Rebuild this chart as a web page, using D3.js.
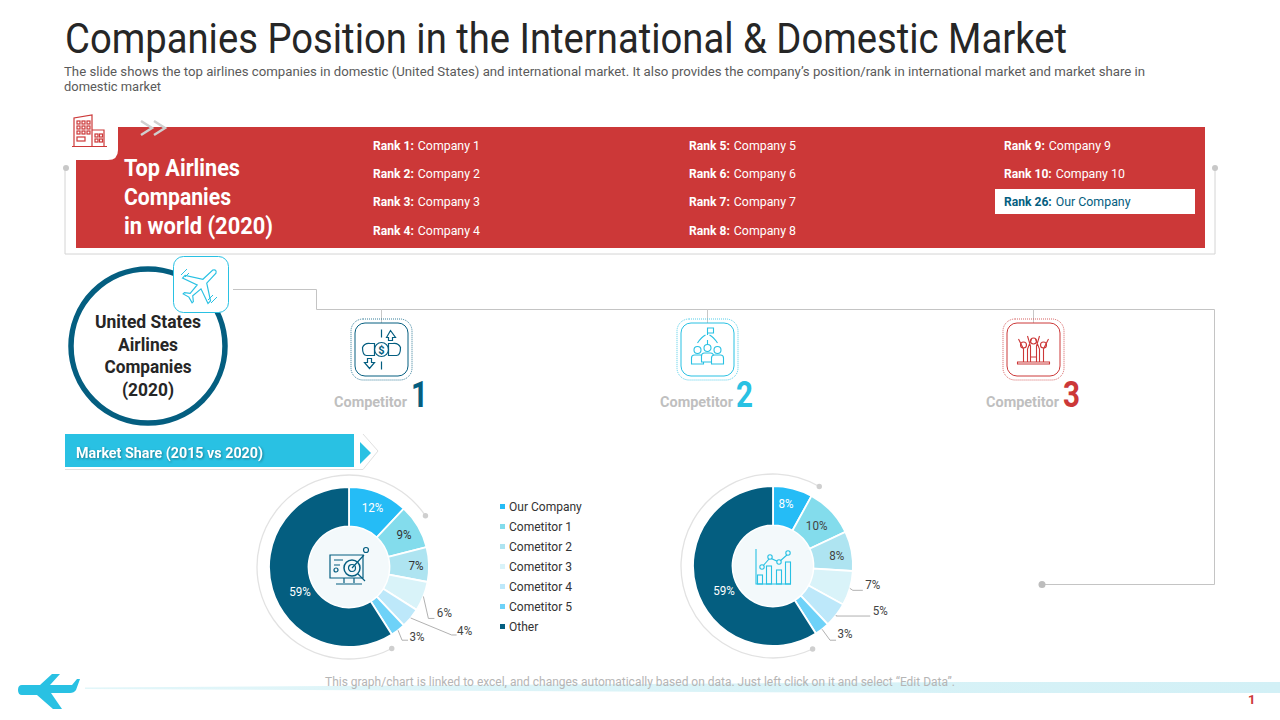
<!DOCTYPE html>
<html><head><meta charset="utf-8">
<script src="https://cdn.jsdelivr.net/npm/d3@7/dist/d3.min.js"></script>
<style>html,body{margin:0;padding:0;background:#fff;overflow:hidden}svg{display:block;font-family:Roboto,sans-serif}</style>
</head><body><svg id="c" width="1280" height="720" viewBox="0 0 1280 720"></svg>
<script>
const categories = ["Our Company","Cometitor 1","Cometitor 2","Cometitor 3","Cometitor 4","Cometitor 5","Other"];
const share2015 = [12,9,7,6,4,3,59];
const share2020 = [8,10,8,7,5,3,59];
const sliceColors = ["#25bcf6","#83dcec","#aee4f1","#d9f3f9","#bde8fa","#6ed2f8","#045e80"];
const ranksCol1 = [["Rank 1:","Company 1"],["Rank 2:","Company 2"],["Rank 3:","Company 3"],["Rank 4:","Company 4"]];
const ranksCol2 = [["Rank 5:","Company 5"],["Rank 6:","Company 6"],["Rank 7:","Company 7"],["Rank 8:","Company 8"]];
const ranksCol3 = [["Rank 9:","Company 9"],["Rank 10:","Company 10"],["Rank 26:","Our Company"]];

const svg = d3.select("#c");
const RED="#cc3838", NAVY="#045e80", CYAN="#29c1e3", LINE="#c4c4c4";

function txt(p,x,y,s,o={}){
  const t=p.append("text").attr("x",x).attr("y",y).text(s)
    .attr("font-size",o.size||12).attr("font-weight",o.weight||400)
    .attr("fill",o.fill||"#333").attr("text-anchor",o.anchor||"start");
  if(o.width) t.attr("textLength",o.width).attr("lengthAdjust","spacingAndGlyphs");
  return t;
}
function squeeze(t,f){
  const w=t.node().getComputedTextLength()*f;
  t.attr("textLength",w).attr("lengthAdjust","spacingAndGlyphs");
  return w;
}
function poly(p,pts,stroke,w,fill){
  return p.append("path").attr("d",d3.line()(pts)).attr("fill",fill||"none").attr("stroke",stroke).attr("stroke-width",w||1);
}
function dot(p,x,y,r,f){p.append("circle").attr("cx",x).attr("cy",y).attr("r",r).attr("fill",f||"#c8c8c8");}

/* Title */
txt(svg,65,53,"Companies Position in the International & Domestic Market",{size:42,fill:"#262626",width:1002});
txt(svg,64,76,"The slide shows the top airlines companies in domestic (United States) and international market. It also provides  the company’s position/rank in international market and market share in",{size:12,fill:"#5a5a5a",width:1081});
txt(svg,64,91,"domestic market",{size:12,fill:"#5a5a5a",width:97});

/* Red header panel */
poly(svg,[[65,168],[65,254],[1215,254],[1215,168]],"#d4d4d4",1);
dot(svg,66,168,3);dot(svg,1215,168,3);
svg.append("rect").attr("x",76).attr("y",127).attr("width",1129).attr("height",121).attr("fill",RED);
svg.append("path").attr("fill","#fff").attr("d","M70 110H118V150Q118 160 108 160H76V168H70Z");
const chev=svg.append("g").attr("fill","none").attr("stroke","#cfcfcf").attr("stroke-width",2.5);
chev.append("path").attr("d","M141 121L152 128L141 135");
chev.append("path").attr("d","M154 121L165 128L154 135");
/* building icon */
const b=svg.append("g").attr("fill","none").attr("stroke",RED).attr("stroke-width",1.2);
b.append("path").attr("d","M74 146V118L92 115V146M92 130H104V146M72 146.500H107");
[0,1,2].forEach(i=>[0,1,2].forEach(j=>b.append("rect").attr("x",77+j*5).attr("y",121+i*5).attr("width",3).attr("height",3)));
[0,1].forEach(i=>[0,1].forEach(j=>b.append("rect").attr("x",95+j*4.5).attr("y",134+i*5).attr("width",3).attr("height",3)));
b.append("rect").attr("x",77).attr("y",137).attr("width",8).attr("height",4);

["Top Airlines","Companies","in world (2020)"].forEach((s,i)=>
  txt(svg,124,176+i*29,s,{size:24,weight:700,fill:"#fff",width:[116,107,149][i]}));

svg.append("rect").attr("x",995).attr("y",189).attr("width",200).attr("height",25).attr("fill","#fff");
const rowY=d3.scalePoint().domain([0,1,2,3]).range([145,230]);
[[373,ranksCol1],[689,ranksCol2],[1004,ranksCol3]].forEach(([x,col])=>{
  col.forEach((r,i)=>{
    const hi=r[0]==="Rank 26:";
    const fill=hi?NAVY:"#fff";
    const a=txt(svg,x,rowY(i)+4.500,r[0],{size:13,weight:700,fill});
    const w=squeeze(a,0.93);
    const v=txt(svg,x+w+4,rowY(i)+4.500,r[1],{size:13,fill:hi?NAVY:"#fff"});
    squeeze(v,0.95);
  });
});

/* Circle */
svg.append("circle").attr("cx",148).attr("cy",346).attr("r",77).attr("fill","#fff").attr("stroke",NAVY).attr("stroke-width",5.500);
["United States","Airlines","Companies","(2020)"].forEach((s,i)=>
  txt(svg,148,328+i*22.700,s,{size:18,weight:700,fill:"#262626",anchor:"middle",width:[106,60,87,52][i]}));
svg.append("rect").attr("x",173.500).attr("y",256.500).attr("width",55).attr("height",56).attr("rx",10).attr("fill","#fff").attr("stroke",CYAN).attr("stroke-width",1);
/* plane icon */
const pl=svg.append("g").attr("transform","translate(201,285) rotate(45) scale(.9)").attr("fill","#fff").attr("stroke",CYAN).attr("stroke-width",1.300);
pl.append("path").attr("d","M-2.500 -21Q0 -25 2.500 -21L3 -6L20 5V9L3 3L2 15L7 19V21L0 19L-7 21V19L-2 15L-3 3L-20 9V5L-3 -6Z");
const sp=svg.append("g").attr("fill","none").attr("stroke",CYAN).attr("stroke-width",1);
sp.append("path").attr("d","M181 275L187 269M185 277L189 273M208 300L213 295M211 303L217 297");

/* Connectors */
poly(svg,[[233,289.500],[316.500,289.500],[316.500,309.500],[1214.500,309.500],[1214.500,584.500],[1042,584.500]],LINE,1);
dot(svg,1042,584.500,3.500,"#bdbdbd");

/* Competitors */
const comps=[{x:382,c:NAVY,n:"1",tx:334,nx:411},{x:708,c:CYAN,n:"2",tx:660,nx:736},{x:1034,c:RED,n:"3",tx:986,nx:1063}];
comps.forEach(k=>{
  poly(svg,[[k.x-.5,309],[k.x-.5,323]],"#c8c8c8",1);
  svg.append("rect").attr("x",k.x-31).attr("y",319).attr("width",61).attr("height",61).attr("rx",12).attr("fill","none").attr("stroke",k.c).attr("stroke-width",.8).attr("stroke-dasharray","1 1");
  svg.append("rect").attr("x",k.x-27).attr("y",323).attr("width",53).attr("height",53).attr("rx",10).attr("fill","#fff").attr("stroke",k.c).attr("stroke-width",1);
  txt(svg,k.tx,407,"Competitor",{size:15,weight:700,fill:"#bfbfbf",width:73});
  txt(svg,k.nx,407,k.n,{size:37,weight:700,fill:k.c,width:17});
});
/* competitor icons */
const i1=svg.append("g").attr("transform","translate(381.500,349.500)").attr("fill","none").attr("stroke",NAVY).attr("stroke-width",1.200);
i1.append("circle").attr("r",7);
i1.append("path").attr("d","M0 -20V-12M0 12V20M-19 -2Q-17 -7 -11 -6H-7V6H-15Q-19 6 -19 -2ZM19 -2Q17 -7 11 -6H7V6H15Q19 6 19 -2ZM5 -12L9 -19L14 -12H11V-9H7V-12ZM-14 9H-10V13H-7L-12 19L-17 13H-14Z");
txt(i1,0,4,"$",{size:11,weight:700,fill:NAVY,anchor:"middle"}).attr("stroke","none");
const i2=svg.append("g").attr("transform","translate(707.500,350)").attr("fill","none").attr("stroke",CYAN).attr("stroke-width",1.100);
i2.append("path").attr("d","M0 -15V-22H6V-17H0M-10 -7Q-6 -13 -2 -15M10 -7Q6 -13 2 -15M0 -10V-5");
[[-10,0],[0,-2],[10,0]].forEach(([x,y])=>{i2.append("circle").attr("cx",x).attr("cy",y).attr("r",3.500);
  i2.append("path").attr("d",`M${x-6} ${y+14}V${y+8}Q${x-6} ${y+5} ${x-3} ${y+5}H${x+3}Q${x+6} ${y+5} ${x+6} ${y+8}V${y+14}Z`).attr("fill","#fff");});
const i3=svg.append("g").attr("transform","translate(1033.500,349)").attr("fill","none").attr("stroke",RED).attr("stroke-width",1.100);
i3.append("path").attr("d","M-16 15H16V13H-16ZM-10 13V0L-15 -10M-6 13V0L-2 -10M10 13V0L15 -10M6 13V0L2 -10M-3 13V-3L-6 -13M3 13V-3L6 -13M-3 8H3");
[[-10,-4],[0,-8],[10,-4]].forEach(([x,y])=>i3.append("circle").attr("cx",x).attr("cy",y).attr("r",3));

/* Banner */
poly(svg,[[65,469.500],[363,469.500],[378,451],[363,434]],"#e0e0e0",1);
svg.append("rect").attr("x",65).attr("y",434).attr("width",289).attr("height",33).attr("fill",CYAN);
svg.append("path").attr("d","M360 442L371 453L360 464Z").attr("fill",CYAN);
txt(svg,76,458,"Market Share (2015 vs 2020)",{size:14.500,weight:700,fill:"#fff",width:187}).style("filter","drop-shadow(1px 1px 1px rgba(0,0,0,.35))");

/* Donuts */
const pie=d3.pie().sort(null).value(d=>d).startAngle(0).endAngle(2*Math.PI);
const deg=Math.PI/180;
function donut(cfg){
  const g=svg.append("g").attr("transform",`translate(${cfg.cx},${cfg.cy})`);
  const ring=d3.arc().innerRadius(92).outerRadius(92).startAngle(cfg.ringFrom*deg).endAngle(cfg.ringTo*deg);
  g.append("path").attr("d",ring()).attr("fill","none").attr("stroke","#e2e2e2").attr("stroke-width",1.300);
  [cfg.ringFrom,cfg.ringTo].forEach(a=>dot(g,92*Math.sin(a*deg),-92*Math.cos(a*deg),2.700,"#cfcfcf"));
  const arc=d3.arc().innerRadius(40.500).outerRadius(80);
  const arcs=pie(cfg.values);
  g.selectAll("path.s").data(arcs).join("path").attr("class","s").attr("d",arc)
    .attr("fill",(d,i)=>sliceColors[i]).attr("stroke","#fff").attr("stroke-width",1.800);
  g.append("circle").attr("r",40).attr("fill","#f3f9fb");
  arcs.forEach((d,i)=>{
    const mid=(d.startAngle+d.endAngle)/2;
    const lab=cfg.labels[i];
    const label=d.value+"%";
    if(lab.r){
      const off=lab.o||[0,0];
      squeeze(txt(g,lab.r*Math.sin(mid)+off[0],-lab.r*Math.cos(mid)+4.500+off[1],label,{size:12.500,fill:lab.fill,anchor:"middle"}),0.93);
    }else{
      const sx=80*Math.sin(mid), sy=-80*Math.cos(mid);
      poly(g,[[sx,sy],[sx+lab.e[0],sy+lab.e[1]],[sx+lab.e[2],sy+lab.e[1]]],"#a8a8a8",.9);
      squeeze(txt(g,sx+lab.t[0],sy+lab.t[1],label,{size:12.500,fill:"#444",anchor:"middle"}),0.93);
    }
  });
  return g;
}
const g1=donut({cx:349,cy:567,values:share2015,ringFrom:152.300,ringTo:416.200,labels:[
  {r:64,fill:"#fff"},{r:64,fill:"#333"},{r:64,fill:"#333",o:[3,0]},
  {e:[5,22,11],t:[21,21]},{e:[41,17,46],t:[54,17]},{e:[4,10,10],t:[19,11]},
  {r:51,fill:"#fff",o:[0,10]}]});
const g2=donut({cx:773,cy:566,values:share2020,ringFrom:154.500,ringTo:390.200,labels:[
  {r:64,fill:"#fff",o:[-3,-1]},{r:64,fill:"#444",o:[-3,3]},{r:64,fill:"#444",o:[1,1]},
  {e:[3,2,13],t:[23,1]},{e:[0,1,34],t:[44,0]},{e:[8,11,14],t:[23,9]},
  {r:51,fill:"#fff",o:[0,10]}]});

/* centre icons */
const m=g1.append("g").attr("fill","none").attr("stroke",NAVY).attr("stroke-width",1.200);
m.append("path").attr("d","M-19 11V-12H14V11ZM-5 11V16M5 11V16M-13 17H13");
m.append("circle").attr("cx",3).attr("cy",1).attr("r",8).attr("fill","#f3f9fb").attr("stroke-width",1.500);
m.append("circle").attr("cx",3).attr("cy",1).attr("r",3.500);
m.append("path").attr("d","M9 7L16 14M3 1L15 -12M-15 -7H-6M-15 -2H-9");
m.append("circle").attr("cx",-13).attr("cy",3).attr("r",2);
m.append("circle").attr("cx",17).attr("cy",-17).attr("r",2.500);
const c=g2.append("g").attr("fill","none").attr("stroke",CYAN).attr("stroke-width",1.100);
c.append("path").attr("d","M-17 -17V18H18");
[[-13,7],[-4,-2],[6,2],[15,-6]].forEach(([x,y])=>c.append("rect").attr("x",x-2.500).attr("y",y+2).attr("width",5).attr("height",18-y-2));
c.append("path").attr("d","M-11 1L-3 -8L6 -4L15 -12");
[[-11,1],[-3,-9],[6,-4],[15,-13]].forEach(([x,y])=>c.append("circle").attr("cx",x).attr("cy",y).attr("r",2.200).attr("fill","#f3f9fb"));

/* Legend */
const lg=svg.append("g");
const legY=d3.scalePoint().domain(categories).range([506.500,626.500]);
categories.forEach((s,i)=>{
  lg.append("rect").attr("x",500).attr("y",legY(s)-2.500).attr("width",5).attr("height",5).attr("fill",sliceColors[i]);
  squeeze(txt(lg,509,legY(s)+4.500,s,{size:13,fill:"#333"}),0.925);
});

/* Footer */
const grad=svg.append("defs").append("linearGradient").attr("id","fb");
grad.append("stop").attr("offset","0").attr("stop-color","#e2f6f9");
grad.append("stop").attr("offset","1").attr("stop-color","#d2f0f6");
svg.append("path").attr("d","M85 687.500L950 682H1280V693H950L85 689Z").attr("fill","url(#fb)");
txt(svg,640,686,"This graph/chart is linked to excel, and changes automatically based on data. Just left click on it and select “Edit Data”.",{size:12,fill:"#b5b5b5",anchor:"middle",width:630});
svg.append("path").attr("fill",CYAN).attr("d","M22 685H40L52 674H60L50 685H72L77 679H80L76 690Q74 693 70 693H51L62 709H53L37 695H22Q18 695 18 690Q18 685 22 685Z");
txt(svg,1248,704,"1",{size:13,weight:700,fill:RED});
</script></body></html>
